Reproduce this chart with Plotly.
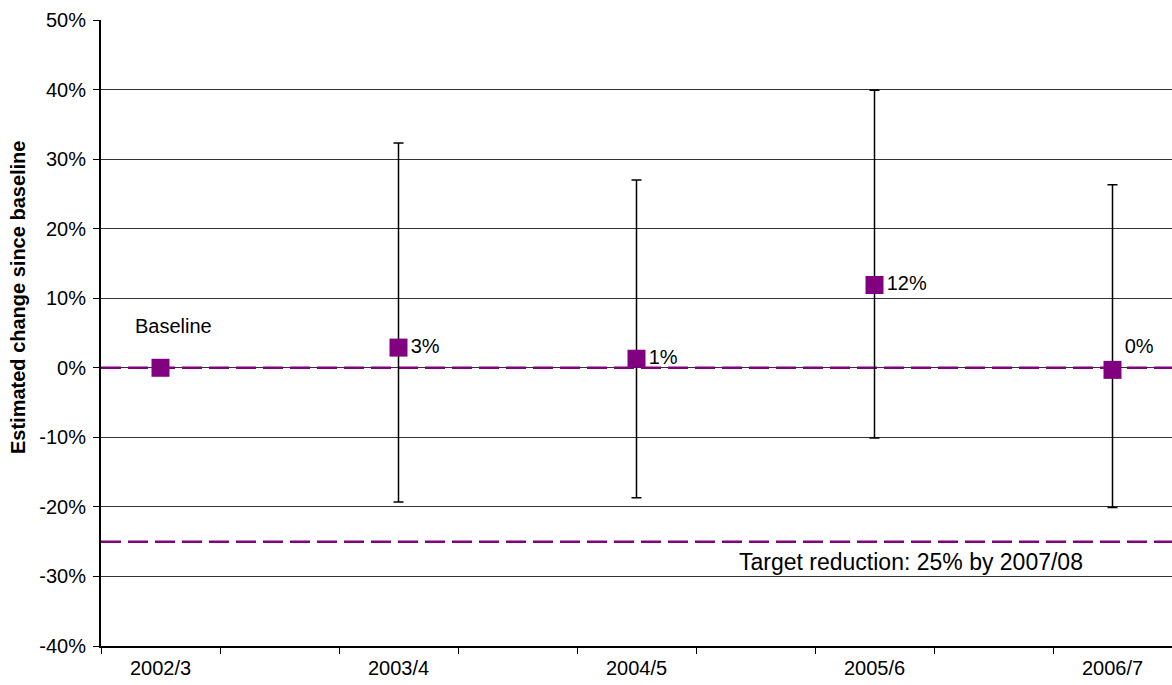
import plotly.graph_objects as go

# Survey years and estimated change since the 2002/3 baseline (%)
years = ["2002/3", "2003/4", "2004/5", "2005/6", "2006/7"]
change = [0.0, 2.9, 1.3, 11.9, -0.3]
# 95% confidence interval limits (%)
ci_upper = [0.0, 32.3, 27.0, 39.9, 26.3]
ci_lower = [0.0, -19.3, -18.7, -10.1, -20.1]
# reference levels (%)
baseline_level = 0
target_level = -25
y_ticks = list(range(-40, 51, 10))
y_tick_text = [f"{v}%" for v in y_ticks]

PURPLE = "#800080"
FONT = "Liberation Sans, Arial, sans-serif"

# each year sits in the middle of every other slot on a 9-slot axis
x_pos = [2 * i for i in range(len(years))]
slot_edges = [i - 0.5 for i in range(10)]
x_range = [slot_edges[0], slot_edges[-1]]

fig = go.Figure()

# dashed baseline and target lines
for level in (baseline_level, target_level):
    fig.add_trace(go.Scatter(
        x=x_range, y=[level, level], mode="lines",
        line=dict(color=PURPLE, width=2.5, dash="20px,7px"),
        hoverinfo="skip", showlegend=False,
    ))

labels = [""] + [f"{round(v)}%" for v in change[1:]]
positions = ["middle right"] * (len(years) - 1) + ["top right"]

fig.add_trace(go.Scatter(
    x=x_pos, y=change, mode="markers+text",
    marker=dict(symbol="square", size=18, color=PURPLE),
    text=labels, textposition=positions,
    textfont=dict(size=20, color="black", family=FONT),
    error_y=dict(
        type="data", symmetric=False,
        array=[u - v for u, v in zip(ci_upper, change)],
        arrayminus=[v - l for v, l in zip(change, ci_lower)],
        color="black", thickness=1.5, width=5,
    ),
    showlegend=False,
))

fig.add_annotation(
    x=x_pos[0], y=change[0], text="Baseline", showarrow=False,
    xshift=13, yshift=42, font=dict(size=20, color="black", family=FONT),
)
fig.add_annotation(
    x=6.31, y=target_level, text="Target reduction: 25% by 2007/08",
    showarrow=False, yanchor="top", yshift=-5,
    font=dict(size=23, color="black", family=FONT),
)
fig.add_annotation(
    xref="paper", yref="paper", x=-0.0775, y=0.5575,
    text="<b>Estimated change since baseline</b>", textangle=-90,
    showarrow=False, xanchor="center", yanchor="middle",
    font=dict(size=20, color="black", family=FONT),
)

fig.update_layout(
    width=1172, height=685,
    margin=dict(l=101, r=0, t=20, b=39),
    plot_bgcolor="white", paper_bgcolor="white",
    font=dict(family=FONT, size=20, color="black"),
    showlegend=False,
    xaxis=dict(
        range=x_range, tickmode="array", tickvals=x_pos, ticktext=years,
        ticks="outside", ticklen=3, tickcolor="rgba(0,0,0,0)",
        showgrid=False, zeroline=False,
        showline=True, linecolor="black", linewidth=2,
        automargin=False,
        minor=dict(tickvals=slot_edges, ticks="outside", ticklen=6,
                   tickcolor="black", tickwidth=1, showgrid=False),
    ),
    yaxis=dict(
        range=[-40, 50], tickmode="array", tickvals=y_ticks,
        ticktext=y_tick_text,
        ticks="outside", ticklen=6, tickcolor="black",
        ticklabelstandoff=3,
        showgrid=True, gridcolor="#333333", gridwidth=1,
        zeroline=False, showline=True, linecolor="black", linewidth=2,
        automargin=False,
    ),
)

fig.write_html("out.html")
